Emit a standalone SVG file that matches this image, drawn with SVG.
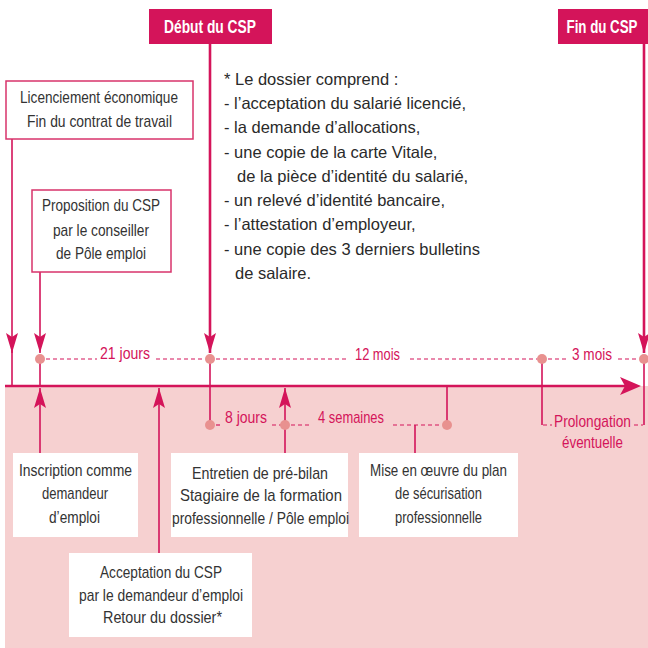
<svg xmlns="http://www.w3.org/2000/svg" width="648" height="648" viewBox="0 0 648 648">
<style>
.lbl{font-family:"Liberation Sans",Arial,sans-serif;font-size:17px;fill:#333;text-anchor:middle}
.dos{font-family:"Liberation Sans",Arial,sans-serif;font-size:16.5px;fill:#2a2a2a}
.red{font-family:"Liberation Sans",Arial,sans-serif;font-size:17px;fill:#d4145a;text-anchor:middle}
.hd{font-family:"Liberation Sans",Arial,sans-serif;font-size:18px;font-weight:bold;fill:#fff;text-anchor:middle}
.ln{stroke:#d4145a;stroke-width:1.6;fill:none}
.thk{stroke:#d4145a;stroke-width:2.6;fill:none}
.dash{stroke:#d4145a;stroke-width:1.2;stroke-dasharray:4 3;fill:none}
.dot{fill:#e8918f}
.box{fill:#fff;stroke:#d8336b;stroke-width:1.5}
.wbox{fill:#fff}
</style>
<defs>
<marker id="ah" viewBox="0 0 20 12" refX="20" refY="6" markerWidth="20" markerHeight="12" markerUnits="userSpaceOnUse" orient="auto">
<path d="M0,0 L4,6 L0,12 L20,6 Z" fill="#d4145a"/>
</marker>
</defs>
<rect x="5" y="386" width="643" height="262" fill="#f6d0d0"/>

<g id="connectors">
<line class="ln" x1="12" y1="139" x2="12" y2="353" marker-end="url(#ah)"/>
<line class="ln" x1="12" y1="350" x2="12" y2="386"/>
<line class="ln" x1="40" y1="272" x2="40" y2="353" marker-end="url(#ah)"/>
<line class="ln" x1="40" y1="359" x2="40" y2="386"/>
<line class="thk" x1="210" y1="44" x2="210" y2="353" marker-end="url(#ah)"/>
<line class="ln" x1="210" y1="359" x2="210" y2="425"/>
<line class="thk" x1="644" y1="44" x2="644" y2="353" marker-end="url(#ah)"/>
<line class="ln" x1="644" y1="359" x2="644" y2="425"/>
<line class="ln" x1="542" y1="359" x2="542" y2="425"/>
<line class="ln" x1="40" y1="453" x2="40" y2="388" marker-end="url(#ah)"/>
<line class="ln" x1="159" y1="553" x2="159" y2="388" marker-end="url(#ah)"/>
<line class="ln" x1="285" y1="453" x2="285" y2="388" marker-end="url(#ah)"/>
<line class="ln" x1="447" y1="386" x2="447" y2="425"/>
<line class="ln" x1="415" y1="425" x2="415" y2="453"/>
<line class="thk" x1="5" y1="386" x2="628" y2="386"/>
<path d="M641,386 L620,377 L625,386 L620,395 Z" fill="#d4145a"/>
<line class="dash" x1="46" y1="359" x2="97" y2="359"/>
<line class="dash" x1="156" y1="359" x2="205" y2="359"/>
<line class="dash" x1="216" y1="359" x2="348" y2="359"/>
<line class="dash" x1="410" y1="359" x2="537" y2="359"/>
<line class="dash" x1="548" y1="359" x2="567" y2="359"/>
<line class="dash" x1="618" y1="359" x2="639" y2="359"/>
<line class="dash" x1="216" y1="425" x2="222" y2="425"/>
<line class="dash" x1="272" y1="425" x2="281" y2="425"/>
<line class="dash" x1="291" y1="425" x2="311" y2="425"/>
<line class="dash" x1="393" y1="425" x2="442" y2="425"/>
<line class="dash" x1="543" y1="425" x2="552" y2="425"/>
<line class="dash" x1="634" y1="425" x2="643" y2="425"/>
<circle class="dot" cx="40" cy="359" r="5"/>
<circle class="dot" cx="210" cy="359" r="5"/>
<circle class="dot" cx="542" cy="359" r="5"/>
<circle class="dot" cx="644" cy="359" r="5"/>
<circle class="dot" cx="210" cy="425" r="5"/>
<circle class="dot" cx="285" cy="425" r="5"/>
<circle class="dot" cx="447" cy="425" r="5"/>
<text class="red" x="125" y="359" textLength="50" lengthAdjust="spacingAndGlyphs">21 jours</text>
<text class="red" x="377.5" y="360" textLength="45" lengthAdjust="spacingAndGlyphs">12 mois</text>
<text class="red" x="592" y="360" textLength="40" lengthAdjust="spacingAndGlyphs">3 mois</text>
<text class="red" x="246" y="423" textLength="42" lengthAdjust="spacingAndGlyphs">8 jours</text>
<text class="red" x="351" y="423" textLength="66" lengthAdjust="spacingAndGlyphs">4 semaines</text>
<text class="red" x="592.5" y="427" textLength="77" lengthAdjust="spacingAndGlyphs">Prolongation</text>
<text class="red" x="592.5" y="448" textLength="61" lengthAdjust="spacingAndGlyphs">éventuelle</text>
</g>

<g id="debut">
<rect x="149" y="9" width="123" height="35" fill="#d4145a"/>
<text class="hd" x="210" y="33" textLength="92" lengthAdjust="spacingAndGlyphs">Début du CSP</text>
</g>
<g id="fin">
<rect x="558" y="9" width="90" height="35" fill="#d4145a"/>
<text class="hd" x="602" y="33" font-size="16" textLength="71" lengthAdjust="spacingAndGlyphs">Fin du CSP</text>
</g>

<g id="licenciement">
<rect class="box" x="6" y="81" width="187" height="58"/>
<text class="lbl" x="99" y="103" textLength="158" lengthAdjust="spacingAndGlyphs">Licenciement économique</text>
<text class="lbl" x="99.5" y="127" textLength="145" lengthAdjust="spacingAndGlyphs">Fin du contrat de travail</text>
</g>

<g id="proposition">
<rect class="box" x="32" y="190" width="139" height="82"/>
<text class="lbl" x="101" y="211" textLength="118" lengthAdjust="spacingAndGlyphs">Proposition du CSP</text>
<text class="lbl" x="101" y="236" textLength="96" lengthAdjust="spacingAndGlyphs">par le conseiller</text>
<text class="lbl" x="101" y="259" textLength="90" lengthAdjust="spacingAndGlyphs">de Pôle emploi</text>
</g>

<g id="dossier">
<text class="dos" x="224" y="85">* Le dossier comprend :</text>
<text class="dos" x="224" y="109">- l’acceptation du salarié licencié,</text>
<text class="dos" x="224" y="133">- la demande d’allocations,</text>
<text class="dos" x="224" y="158">- une copie de la carte Vitale,</text>
<text class="dos" x="237" y="182">de la pièce d’identité du salarié,</text>
<text class="dos" x="224" y="206">- un relevé d’identité bancaire,</text>
<text class="dos" x="224" y="230">- l’attestation d’employeur,</text>
<text class="dos" x="224" y="255">- une copie des 3 derniers bulletins</text>
<text class="dos" x="235" y="279">de salaire.</text>
</g>

<g id="inscription">
<rect class="wbox" x="13" y="453" width="125" height="84"/>
<text class="lbl" x="75.5" y="476" textLength="113" lengthAdjust="spacingAndGlyphs">Inscription comme</text>
<text class="lbl" x="75" y="499" textLength="66" lengthAdjust="spacingAndGlyphs">demandeur</text>
<text class="lbl" x="74.5" y="523" textLength="51" lengthAdjust="spacingAndGlyphs">d’emploi</text>
</g>

<g id="acceptation">
<rect class="wbox" x="69" y="553" width="183" height="84"/>
<text class="lbl" x="161" y="578" textLength="122" lengthAdjust="spacingAndGlyphs">Acceptation du CSP</text>
<text class="lbl" x="161" y="601" textLength="164" lengthAdjust="spacingAndGlyphs">par le demandeur d’emploi</text>
<text class="lbl" x="162.5" y="623" textLength="119" lengthAdjust="spacingAndGlyphs">Retour du dossier*</text>
</g>

<g id="entretien">
<rect class="wbox" x="171" y="453" width="177" height="84"/>
<text class="lbl" x="260" y="479" textLength="136" lengthAdjust="spacingAndGlyphs">Entretien de pré-bilan</text>
<text class="lbl" x="261" y="501" textLength="162" lengthAdjust="spacingAndGlyphs">Stagiaire de la formation</text>
<text class="lbl" x="260.5" y="524" textLength="177" lengthAdjust="spacingAndGlyphs">professionnelle / Pôle emploi</text>
</g>

<g id="mise">
<rect class="wbox" x="359" y="453" width="159" height="84"/>
<text class="lbl" x="438.5" y="476" textLength="137" lengthAdjust="spacingAndGlyphs">Mise en œuvre du plan</text>
<text class="lbl" x="438.5" y="499" textLength="87" lengthAdjust="spacingAndGlyphs">de sécurisation</text>
<text class="lbl" x="438.5" y="523" textLength="87" lengthAdjust="spacingAndGlyphs">professionnelle</text>
</g>
</svg>
